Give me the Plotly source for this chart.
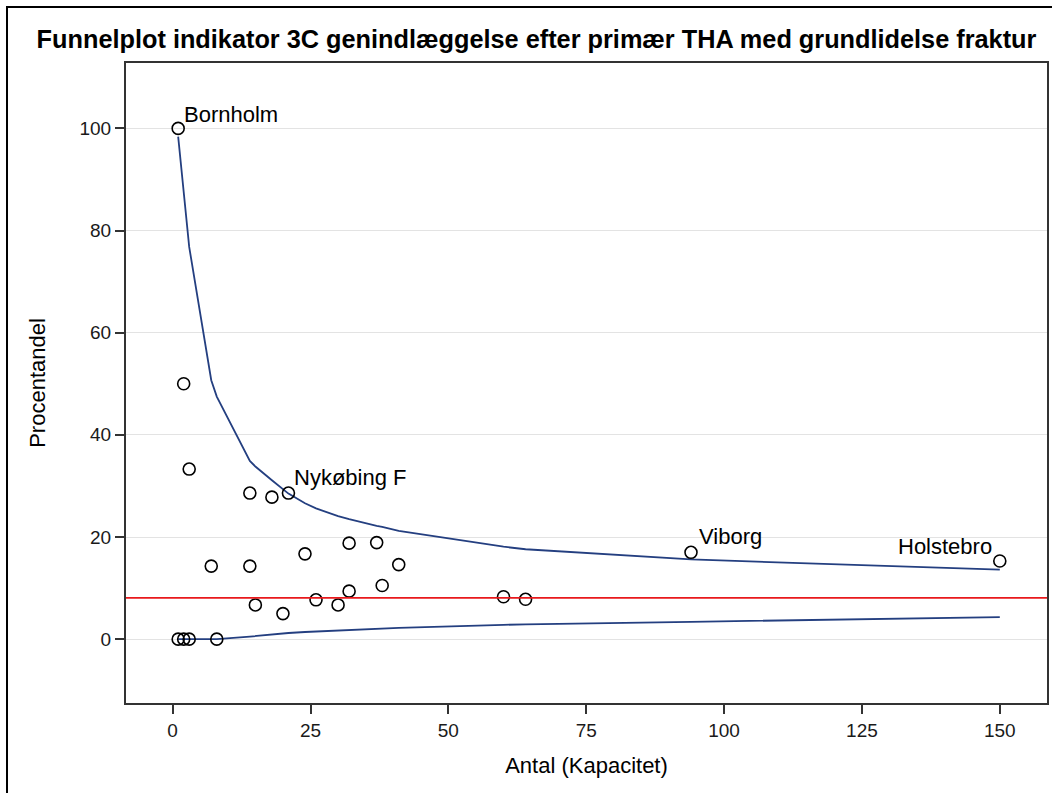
import plotly.graph_objects as go

# ---- data ----
antal = [1, 2, 3, 1, 2, 3, 8, 7, 14, 14, 18, 21, 15, 20, 24, 26, 30, 32, 32, 37, 38, 41, 60, 64, 94, 150]
procent = [100, 50, 33.3, 0, 0, 0, 0, 14.3, 14.3, 28.6, 27.8, 28.6, 6.7, 5.0, 16.7, 7.7, 6.7,
           18.8, 9.4, 18.9, 10.5, 14.6, 8.3, 7.8, 17.0, 15.3]

limit_n = [1, 2, 3, 7, 8, 14, 15, 18, 20, 21, 24, 26, 30, 32, 37, 38, 41, 60, 64, 94, 150]
upper = [98.4, 87.5, 76.8, 50.7, 47.5, 34.9, 33.8, 31.1, 29.4, 28.5, 26.6, 25.6, 24.1, 23.5,
         22.2, 22.0, 21.2, 18.1, 17.6, 15.6, 13.6]
lower = [0, 0, 0, 0, 0, 0.5, 0.6, 1.0, 1.1, 1.2, 1.4, 1.5, 1.7, 1.8, 2.0, 2.1, 2.2, 2.8, 2.9, 3.4, 4.3]

landsgennemsnit = 8.1

label_names = ["Bornholm", "Nykøbing F", "Viborg", "Holstebro"]
label_n = [1, 21, 94, 150]
label_pct = [100, 28.6, 17.0, 15.3]

x_ticks = [0, 25, 50, 75, 100, 125, 150]
y_ticks = [0, 20, 40, 60, 80, 100]

title = "Funnelplot indikator 3C genindlæggelse efter primær THA med grundlidelse fraktur"

# ---- figure ----
FONT = "Arial, Liberation Sans, sans-serif"
BLUE = "#243f80"

fig = go.Figure()
fig.add_trace(go.Scatter(x=limit_n, y=upper, mode="lines",
                         line=dict(color=BLUE, width=1.8), hoverinfo="skip", showlegend=False))
fig.add_trace(go.Scatter(x=limit_n, y=lower, mode="lines",
                         line=dict(color=BLUE, width=1.8), hoverinfo="skip", showlegend=False))
fig.add_trace(go.Scatter(x=antal, y=procent, mode="markers",
                         marker=dict(symbol="circle-open", size=12, color="black",
                                     line=dict(color="black", width=1.6)),
                         showlegend=False))

fig.add_shape(type="line", xref="paper", x0=0, x1=1, yref="y",
              y0=landsgennemsnit, y1=landsgennemsnit,
              line=dict(color="#e8191c", width=1.8))

# outer frame
fig.add_shape(type="rect", xref="paper", yref="paper",
              x0=-0.1292, x1=1.02, y0=-0.3, y1=1.0875,
              line=dict(color="black", width=2), fillcolor="rgba(0,0,0,0)", layer="above")

shifts = [(4, 14, "left"), (4, 16, "left"), (6, 16, "left"), (-6, 14.5, "right")]
for name, xn, yp, (dx, dy, anc) in zip(label_names, label_n, label_pct, shifts):
    fig.add_annotation(x=xn, y=yp, xref="x", yref="y", text=name, showarrow=False,
                       xanchor=anc, yanchor="middle", xshift=dx, yshift=dy,
                       font=dict(family=FONT, size=22, color="black"))

axis_common = dict(showline=True, mirror=True, linecolor="#333333", linewidth=2,
                   ticks="outside", ticklen=9, tickwidth=1.5, tickcolor="#333333",
                   zeroline=False,
                   tickfont=dict(family=FONT, size=19, color="#1a1a1a"))

fig.update_layout(
    width=1052, height=793,
    margin=dict(l=126, r=5, t=63, b=90),
    paper_bgcolor="white", plot_bgcolor="white",
    title=dict(text=title, x=0.51, xref="container", xanchor="center",
               y=1 - 39 / 793, yref="container", yanchor="middle",
               font=dict(family=FONT, size=25.3, color="black", weight="bold")),
    xaxis=dict(range=[-8.46, 158.56], tickvals=x_ticks, showgrid=False,
               title=dict(text="Antal (Kapacitet)", standoff=18,
                          font=dict(family=FONT, size=22, color="black")),
               automargin=False, **axis_common),
    yaxis=dict(range=[-12.5, 112.8], tickvals=y_ticks, showgrid=True,
               gridcolor="#e3e3e3", gridwidth=1,
               title=dict(text="Procentandel", standoff=28,
                          font=dict(family=FONT, size=22, color="black")),
               automargin=False, **axis_common),
)

fig.write_html("out.html")
